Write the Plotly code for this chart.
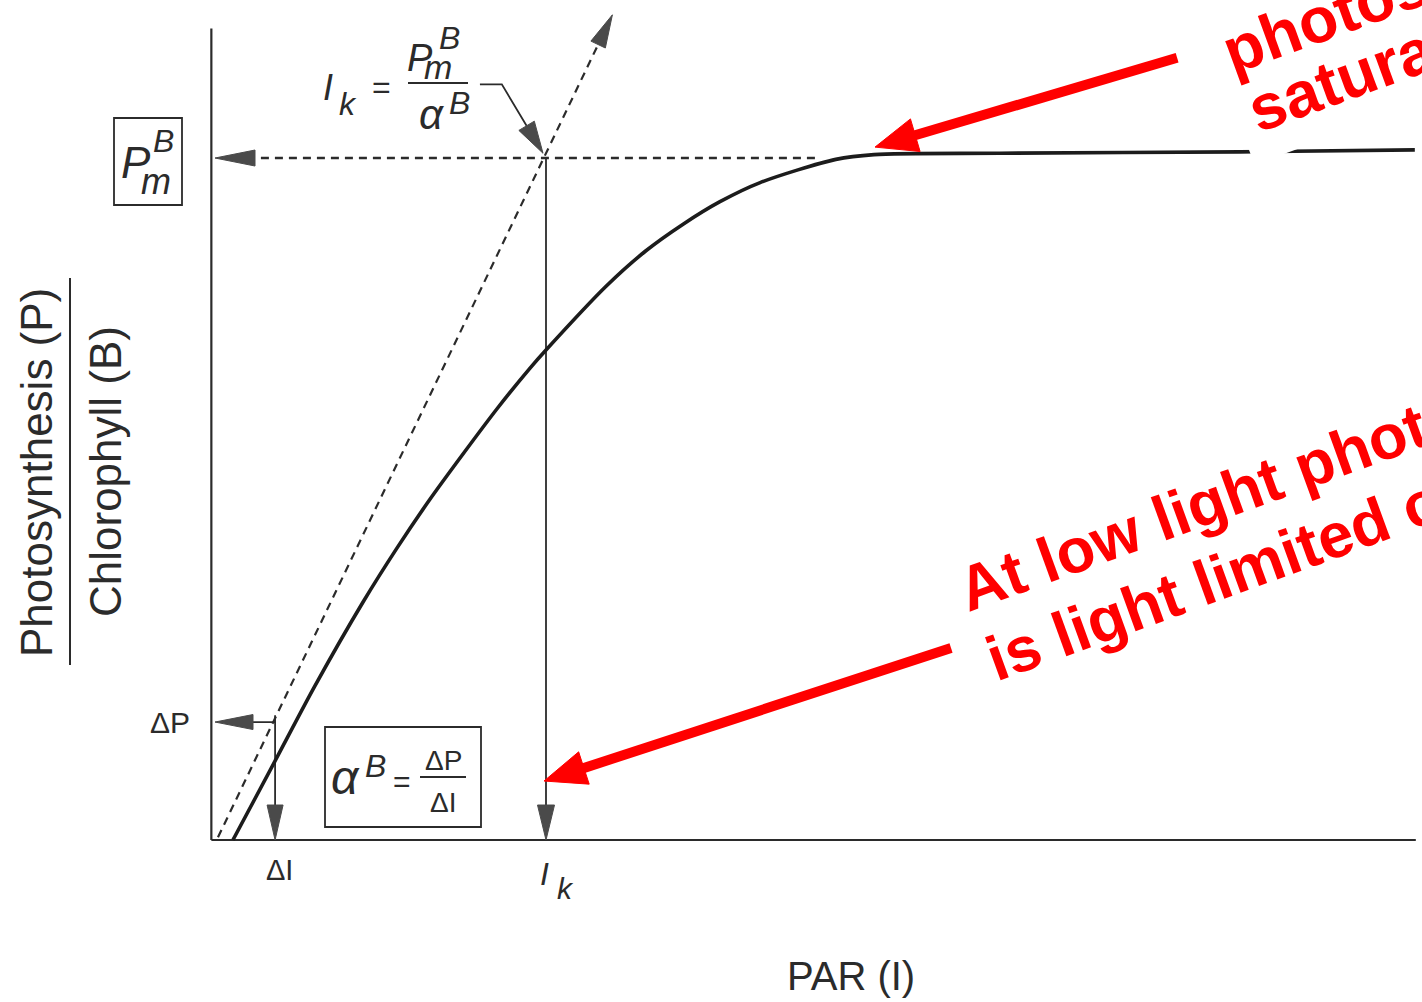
import math
import plotly.graph_objects as go

# P-I curve, in relative units (I_k = 1, P_m^B = 1)
PAR = [0.057, 0.184, 0.304, 0.449, 0.551, 0.651, 0.750, 0.852, 0.952, 1.0,
       1.181, 1.301, 1.413, 1.524, 1.645, 1.873, 1.988, 2.367, 3.09, 3.617]
P_CHL = [0.0, 0.116, 0.226, 0.349, 0.428, 0.500, 0.566, 0.632, 0.692, 0.7185,
         0.812, 0.864, 0.903, 0.936, 0.964, 0.998, 1.005, 1.007, 1.009, 1.012]

IK = 1.0
PM = 1.0
DELTA_I = 0.184
DELTA_P = 0.173

# initial slope (alpha^B) drawn through the origin and (Ik, Pm)
SLOPE_I = [0.012, 1.2]
SLOPE_P = [0.004, 1.21]

AXIS_X_END = 3.62
AXIS_Y_END = 1.19

W, H = 1422, 1002
X_RANGE = [-0.6446, 3.6386]
Y_RANGE = [-0.2375, 1.2317]

INK = "#2b2b2b"
HEAD = "#4a4a4a"
RED = "#ff0000"
FONT = "Liberation Sans"
DASH = "8px,6px"


def to_px(x, y):
    px = (x - X_RANGE[0]) / (X_RANGE[1] - X_RANGE[0]) * W
    py = (Y_RANGE[1] - y) / (Y_RANGE[1] - Y_RANGE[0]) * H
    return px, py


def from_px(px, py):
    x = X_RANGE[0] + px / W * (X_RANGE[1] - X_RANGE[0])
    y = Y_RANGE[1] - py / H * (Y_RANGE[1] - Y_RANGE[0])
    return x, y


def line(xs, ys, color=INK, width=2, dash=None):
    return go.Scatter(x=xs, y=ys, mode="lines", hoverinfo="skip",
                      line=dict(color=color, width=width, dash=dash))


def arrow(points, color=INK, width=2, dash=None, head_len=36, head_w=16, head_color=HEAD):
    """polyline ending in a filled triangular head (sized in pixels)"""
    tx, ty = to_px(*points[-1])
    bx, by = to_px(*points[-2])
    d = math.hypot(tx - bx, ty - by)
    ux, uy = (tx - bx) / d, (ty - by) / d
    cx, cy = tx - ux * head_len, ty - uy * head_len
    nx, ny = -uy, ux
    tri = [(tx, ty), (cx + nx * head_w / 2, cy + ny * head_w / 2),
           (cx - nx * head_w / 2, cy - ny * head_w / 2), (tx, ty)]
    tri = [from_px(*p) for p in tri]
    stop = from_px(tx - ux * head_len * 0.7, ty - uy * head_len * 0.7)
    pts = list(points[:-1]) + [stop]
    shaft = line([p[0] for p in pts], [p[1] for p in pts], color, width, dash)
    head = go.Scatter(x=[p[0] for p in tri], y=[p[1] for p in tri], mode="lines",
                      fill="toself", fillcolor=head_color, hoverinfo="skip",
                      line=dict(color=head_color, width=1))
    return [shaft, head]


def label(text, px, py, size, italic=False, color=INK, angle=0, **kw):
    style = "italic" if italic else "normal"
    return dict(xref="paper", yref="paper", x=px / W, y=1 - py / H, text=text,
                showarrow=False, xanchor="center", yanchor="middle", textangle=angle,
                font=dict(family=FONT, size=size, color=color, style=style), **kw)


def red_line(text, blx, bly, size, pad=1, bg=None, angle=-20):
    """rotated red note; (blx, bly) is the bottom-left corner of its box"""
    h = 1.15 * size + 2 * pad
    x = blx - h * math.sin(math.radians(-angle))
    return dict(xref="paper", yref="paper", x=x / W, y=1 - bly / H, text=text,
                showarrow=False, xanchor="left", yanchor="bottom", textangle=angle,
                borderpad=pad, bgcolor=bg or "rgba(0,0,0,0)",
                font=dict(family=FONT, size=size, color=RED, weight="bold"))


def paper_line(x0, y0, x1, y1, width=2, color=INK):
    return dict(type="line", xref="paper", yref="paper", x0=x0 / W, y0=1 - y0 / H,
                x1=x1 / W, y1=1 - y1 / H, line=dict(color=color, width=width))


def paper_box(x0, y0, x1, y1):
    return dict(type="rect", xref="paper", yref="paper", x0=x0 / W, y0=1 - y0 / H,
                x1=x1 / W, y1=1 - y1 / H, line=dict(color=INK, width=1.8))


fig = go.Figure()

# axes
fig.add_trace(line([-0.008, AXIS_X_END], [0, 0], width=2.2))
fig.add_trace(line([-0.008, -0.008], [0, AXIS_Y_END], width=2.2))

# P_m^B dashed guide, initial slope, I_k drop line
for t in arrow([(1.81, PM), (0.003, PM)], width=2.4, dash=DASH, head_len=40, head_w=16):
    fig.add_trace(t)
for t in arrow([(SLOPE_I[0], SLOPE_P[0]), (SLOPE_I[1], SLOPE_P[1])], width=2.2, dash=DASH,
               head_len=33, head_w=16):
    fig.add_trace(t)
for t in arrow([(IK, PM), (IK, 0.0)], width=1.8, head_len=35, head_w=17):
    fig.add_trace(t)

# delta-P / delta-I construction
for t in arrow([(DELTA_I, DELTA_P), (0.003, DELTA_P)], width=1.8, head_len=38, head_w=15):
    fig.add_trace(t)
for t in arrow([(DELTA_I, DELTA_P + 0.01), (DELTA_I, 0.0)], width=1.8, head_len=35, head_w=16):
    fig.add_trace(t)

# pointer from the I_k formula to (I_k, P_m)
for t in arrow([(0.801, 1.108), (0.867, 1.108), (0.991, 1.007)], width=1.8,
               head_len=32, head_w=18):
    fig.add_trace(t)

# the P-I curve
fig.add_trace(go.Scatter(x=PAR, y=P_CHL, mode="lines", hoverinfo="skip",
                         line=dict(color="#1c1c1c", width=3.6, shape="spline", smoothing=0.8)))

# red call-out arrows
for t in arrow([(2.901, 1.147), (1.991, 1.016)], color=RED, width=10, head_len=42,
               head_w=34, head_color=RED):
    fig.add_trace(t)
for t in arrow([(2.220, 0.2815), (0.994, 0.0865)], color=RED, width=10, head_len=42,
               head_w=34, head_color=RED):
    fig.add_trace(t)

shapes = [
    paper_line(70, 278, 70, 665, width=2),      # y-label fraction bar
    paper_box(114, 118, 182, 205),              # P_m^B box
    paper_box(325, 727, 481, 827),              # alpha^B box
    paper_line(408, 83, 468, 83, width=2),      # I_k formula bar
    paper_line(420, 777, 466, 777, width=1.8),  # dP/dI bar
]

annotations = [
    # y axis title as a fraction
    label("Photosynthesis (P)", 37, 473, 44, angle=-90),
    label("Chlorophyll (B)", 105, 472, 44, angle=-90),
    # x axis title and labels
    label("PAR (I)", 851, 976, 40),
    label("I", 544, 874, 32, italic=True),
    label("k", 565, 888, 30, italic=True),
    label("ΔI", 279, 870, 29),
    label("ΔP", 170, 722, 30),
    # boxed P_m^B
    label("P", 136, 163, 44, italic=True),
    label("B", 163, 141, 32, italic=True),
    label("m", 156, 181, 36, italic=True),
    # I_k = P_m^B / alpha^B
    label("I", 328, 88, 36, italic=True),
    label("k", 348, 104, 32, italic=True),
    label("=", 381, 87, 32),
    label("P", 420, 58, 38, italic=True),
    label("B", 449, 38, 32, italic=True),
    label("m", 438, 67, 34, italic=True),
    label("α", 431, 114, 42, italic=True),
    label("B", 459, 103, 32, italic=True),
    # alpha^B = dP / dI
    label("α", 345, 777, 48, italic=True),
    label("B", 375, 766, 32, italic=True),
    label("=", 402, 781, 30),
    label("ΔP", 443, 760, 28),
    label("ΔI", 443, 802, 28),
    # red notes (run off the right edge as in the source slide)
    red_line("saturated", 1254, 165, 64, pad=14, bg="white"),
    red_line("photosynthesis", 1236, 90, 64),
    red_line("At low light photosynthesis", 972, 627, 63),
    red_line("is light limited or linear", 1000, 696, 63),
]

fig.update_layout(
    width=W, height=H,
    margin=dict(l=0, r=0, t=0, b=0),
    paper_bgcolor="white", plot_bgcolor="white",
    showlegend=False,
    xaxis=dict(range=X_RANGE, visible=False, fixedrange=True),
    yaxis=dict(range=Y_RANGE, visible=False, fixedrange=True),
    shapes=shapes,
    annotations=annotations,
)

fig.write_html("out.html", config={"displayModeBar": False},
               post_script="document.body.style.margin='0';document.body.style.overflow='hidden';")
